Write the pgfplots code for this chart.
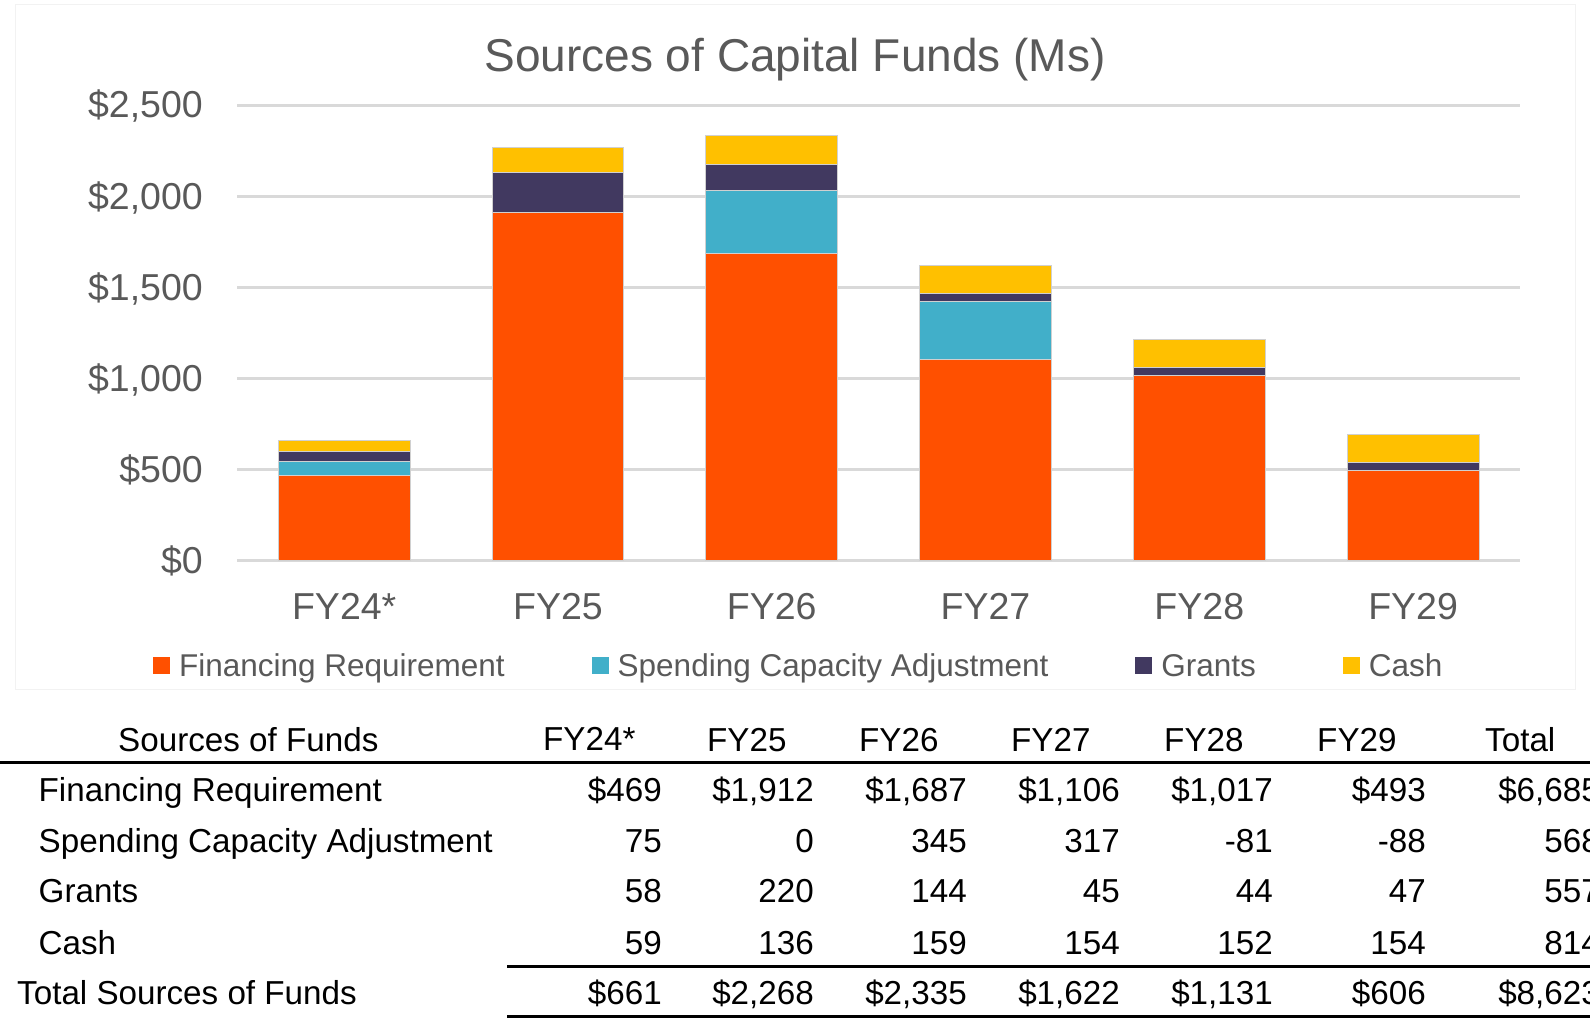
\documentclass[border=0pt]{standalone}
\usepackage{fontspec}
\setmainfont{Liberation Sans}
\usepackage{pgfplots}
\pgfplotsset{compat=1.18}
\definecolor{fin}{HTML}{FF5000}
\definecolor{sca}{HTML}{41AFC9}
\definecolor{grant}{HTML}{413960}
\definecolor{cash}{HTML}{FFC000}
\definecolor{txt}{HTML}{595959}
\definecolor{gridc}{HTML}{D9D9D9}
\definecolor{bord}{HTML}{D0D0D0}
\begin{document}
\begin{tikzpicture}[x=1pt,y=1pt]
\useasboundingbox (0,0) rectangle (1590,1019);
\fill[white] (0,0) rectangle (1590,1019);
\draw[black!5, line width=1pt] (15,1014) rectangle (1575,329);
\node[anchor=base, text=txt, font=\fontsize{46}{50}\selectfont, inner sep=0pt] at (795,947) {Sources of Capital Funds (Ms)};
\begin{axis}[
  at={(237.3pt,458.3pt)}, anchor=south west,
  scale only axis, width=1282.7pt, height=455.2pt,
  xmin=-0.5, xmax=5.5, ymin=0, ymax=2500, enlargelimits=false,
  ybar stacked, bar width=0.617,
  axis line style={draw=none}, major tick length=0pt,
  ymajorgrids, grid style={gridc, line width=2.5pt},
  ytick={0,500,1000,1500,2000,2500},
  yticklabels={\$0,\$500,{\$1,000},{\$1,500},{\$2,000},{\$2,500}},
  xtick={0,1,2,3,4,5}, xticklabels={FY24*,FY25,FY26,FY27,FY28,FY29},
  tick label style={text=txt, inner sep=0pt, font=\fontsize{37.5}{40}\selectfont},
  yticklabel style={anchor=base east, xshift=-34.3pt, yshift=-12.5pt},
  xticklabel style={anchor=base, yshift=-59.3pt},
  legend style={at={(-0.0657,-0.2313)}, anchor=west, draw=none, fill=none,
    inner sep=0pt, outer sep=0pt, legend columns=4,
    font=\fontsize{31.5}{34}\selectfont, text=txt, nodes={inner sep=0pt},
    /tikz/every odd column/.append style={column sep=9pt},
    /tikz/every even column/.append style={column sep=87pt}},
  legend image code/.code={\fill[#1, draw=none] (0pt,-8.5pt) rectangle (17pt,8.5pt);},
  legend cell align=left,
]
\addplot[fill=fin, draw=bord, line width=1pt] coordinates {(0,469) (1,1912) (2,1687) (3,1106) (4,1017) (5,493)};
\addlegendentry{Financing Requirement}
\addplot[fill=sca, draw=bord, line width=1pt] coordinates {(0,75) (1,0) (2,345) (3,317) (4,0) (5,0)};
\addlegendentry{Spending Capacity Adjustment}
\addplot[fill=grant, draw=bord, line width=1pt] coordinates {(0,58) (1,220) (2,144) (3,45) (4,44) (5,47)};
\addlegendentry{Grants}
\addplot[fill=cash, draw=bord, line width=1pt] coordinates {(0,59) (1,136) (2,159) (3,154) (4,152) (5,154)};
\addlegendentry{Cash}
\end{axis}
\begin{scope}[every node/.style={inner sep=0pt, font=\fontsize{33.2}{36}\selectfont, text=black}]
% header
\node[anchor=base west] at (118,267) {Sources of Funds};
\node[anchor=base west] at (543,268) {FY24*};
\node[anchor=base west] at (707,267) {FY25};
\node[anchor=base west] at (859,267) {FY26};
\node[anchor=base west] at (1011,267) {FY27};
\node[anchor=base west] at (1164,267) {FY28};
\node[anchor=base west] at (1317,267) {FY29};
\node[anchor=base west] at (1485,267) {Total};
\draw[line width=3pt] (0,256) -- (1590,256);
% row labels
\node[anchor=base west] at (38.5,217) {Financing Requirement};
\node[anchor=base west] at (38.5,166.5) {Spending Capacity Adjustment};
\node[anchor=base west] at (38.5,116) {Grants};
\node[anchor=base west] at (38.5,64) {Cash};
\node[anchor=base west] at (17,14) {Total Sources of Funds};
% financing
\node[anchor=base east] at (662,217) {\$469};
\node[anchor=base east] at (814,217) {\$1,912};
\node[anchor=base east] at (967,217) {\$1,687};
\node[anchor=base east] at (1120,217) {\$1,106};
\node[anchor=base east] at (1273,217) {\$1,017};
\node[anchor=base east] at (1426,217) {\$493};
\node[anchor=base east] at (1600,217) {\$6,685};
% sca
\node[anchor=base east] at (662,166.5) {75};
\node[anchor=base east] at (814,166.5) {0};
\node[anchor=base east] at (967,166.5) {345};
\node[anchor=base east] at (1120,166.5) {317};
\node[anchor=base east] at (1273,166.5) {-81};
\node[anchor=base east] at (1426,166.5) {-88};
\node[anchor=base east] at (1600,166.5) {568};
% grants
\node[anchor=base east] at (662,116) {58};
\node[anchor=base east] at (814,116) {220};
\node[anchor=base east] at (967,116) {144};
\node[anchor=base east] at (1120,116) {45};
\node[anchor=base east] at (1273,116) {44};
\node[anchor=base east] at (1426,116) {47};
\node[anchor=base east] at (1600,116) {557};
% cash
\node[anchor=base east] at (662,64) {59};
\node[anchor=base east] at (814,64) {136};
\node[anchor=base east] at (967,64) {159};
\node[anchor=base east] at (1120,64) {154};
\node[anchor=base east] at (1273,64) {152};
\node[anchor=base east] at (1426,64) {154};
\node[anchor=base east] at (1600,64) {814};
\draw[line width=3pt] (507,52) -- (1590,52);
% totals
\node[anchor=base east] at (662,14) {\$661};
\node[anchor=base east] at (814,14) {\$2,268};
\node[anchor=base east] at (967,14) {\$2,335};
\node[anchor=base east] at (1120,14) {\$1,622};
\node[anchor=base east] at (1273,14) {\$1,131};
\node[anchor=base east] at (1426,14) {\$606};
\node[anchor=base east] at (1600,14) {\$8,623};
\draw[line width=3pt] (507,2) -- (1590,2);
\end{scope}
\end{tikzpicture}
\end{document}
